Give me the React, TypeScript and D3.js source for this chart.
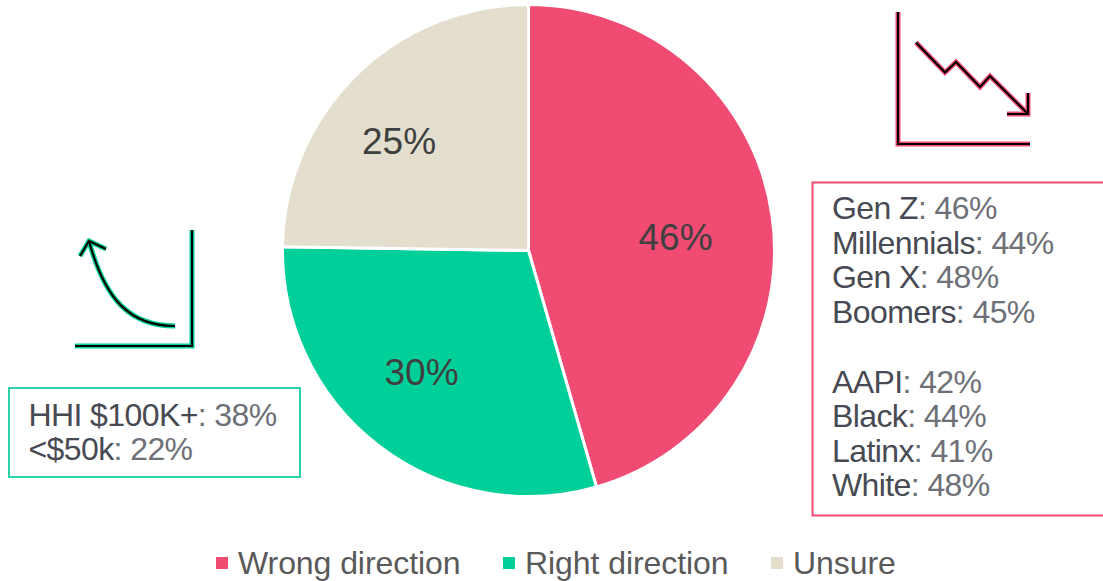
import React from "react";
import * as d3 from "d3";

const categories = ["Wrong direction", "Right direction", "Unsure"];
const values = [46, 30, 25];
const colors = ["#EF4B73", "#00CF9A", "#E3DECE"];
const labelPos = [[675.5, 237], [421.5, 372], [399, 141]];
const legendX = [216, 503, 771];

const greenRows = [["HHI $100K+", "38%"], ["<$50k", "22%"]];
const pinkRows = [
  ["Gen Z", "46%"], ["Millennials", "44%"], ["Gen X", "48%"], ["Boomers", "45%"],
  ["AAPI", "42%"], ["Black", "44%"], ["Latinx", "41%"], ["White", "48%"],
];
const pinkBaselines = [219, 254, 288, 323, 393, 427, 462, 496];
const greenBaselines = [426, 460];

const downAxis: [number, number][] = [[898, 12], [898, 144], [1030, 144]];
const downLine: [number, number][] = [[916, 42.5], [945, 72.5], [956, 62], [980, 87], [990, 76], [1028, 114]];
const downHead: [number, number][] = [[1028, 93], [1028, 114], [1007, 114]];
const upAxis: [number, number][] = [[192, 230], [192, 346], [75, 346]];
const upHead: [number, number][] = [[80, 256], [89, 241], [106, 249]];
const upCurve = "M175,326 C130,326 105,300 89,241";

const FONT = "'Liberation Sans', Arial, sans-serif";

function Icon({ ds, color }: { ds: string[]; color: string }) {
  return (
    <g fill="none" strokeLinejoin="miter">
      {ds.map((d, i) => <path key={"o" + i} d={d} stroke={color} strokeWidth={5} />)}
      {ds.map((d, i) => <path key={"i" + i} d={d} stroke="#000" strokeWidth={2.2} />)}
    </g>
  );
}

function Rows({ rows, ys, x, size }: { rows: string[][]; ys: number[]; x: number; size: number }) {
  return (
    <g fontSize={size} letterSpacing={-0.6}>
      {rows.map((r, i) => (
        <text key={r[0]} x={x} y={ys[i]}>
          <tspan fill="#474A52">{r[0]}</tspan>
          <tspan fill="#6E7077">: {r[1]}</tspan>
        </text>
      ))}
    </g>
  );
}

export default function App() {
  const cx = 528.5, cy = 250.5, r = 246;
  const arcs = d3.pie<number>().sort(null)(values);
  const arc = d3.arc<d3.PieArcDatum<number>>().innerRadius(0).outerRadius(r);
  const line = d3.line();
  return (
    <svg width={1103} height={581} viewBox="0 0 1103 581"
      style={{ position: "absolute", left: 0, top: 0, background: "#fff" }} fontFamily={FONT}>
      <g transform={`translate(${cx},${cy})`}>
        {arcs.map((a, i) => (
          <path key={categories[i]} d={arc(a) || ""} fill={colors[i]} stroke="#fff" strokeWidth={3} />
        ))}
      </g>
      {values.map((v, i) => (
        <text key={i} x={labelPos[i][0]} y={labelPos[i][1]} dy="0.36em" textAnchor="middle" fontSize={37} fill="#404040">
          {v}%
        </text>
      ))}
      {categories.map((c, i) => (
        <g key={c}>
          <rect x={legendX[i]} y={557} width={12} height={12} fill={colors[i]} />
          <text x={legendX[i] + 22} y={574} fontSize={32} letterSpacing={-0.07} fill="#595959">{c}</text>
        </g>
      ))}
      <rect x={9} y={388} width={291} height={89} fill="#fff" stroke="#2BD3A8" strokeWidth={2} />
      <Rows rows={greenRows} ys={greenBaselines} x={28.5} size={32} />
      <rect x={812.5} y={182.5} width={300} height={333} fill="#fff" stroke="#EF4B73" strokeWidth={2} />
      <Rows rows={pinkRows} ys={pinkBaselines} x={832} size={32} />
      <Icon ds={[line(downAxis)!, line(downLine)!, line(downHead)!]} color="#EF4B73" />
      <Icon ds={[line(upAxis)!, upCurve, line(upHead)!]} color="#00CF9A" />
    </svg>
  );
}
